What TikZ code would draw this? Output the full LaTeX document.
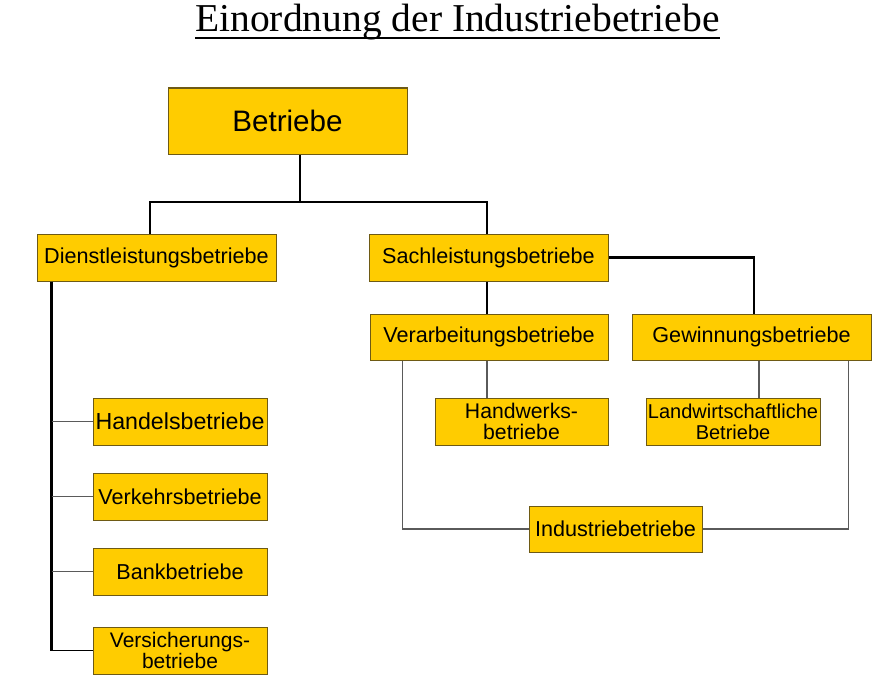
\documentclass[tikz,border=0pt]{standalone}
\usepackage{fontspec}
\setmainfont{Liberation Sans}
\newfontfamily\titlefont{Liberation Serif}
\definecolor{boxfill}{RGB}{255,204,0}
\definecolor{boxline}{RGB}{110,90,20}
\definecolor{thingray}{RGB}{90,90,90}
\begin{document}
\begin{tikzpicture}[x=1pt,y=-1pt,
  box/.style={draw=boxline,fill=boxfill,line width=1pt,inner sep=0pt,anchor=center,
    align=center,font=\fontsize{21.6}{23}\selectfont},
  thk/.style={draw=black,line width=2.8pt},
  thn/.style={draw=thingray,line width=1.4pt}]
\useasboundingbox (0,0) rectangle (881,677);
% title
\node[inner sep=0pt,anchor=base,font=\titlefont\fontsize{39.5}{42}\selectfont] (T) at (457.5,32) {Einordnung der Industriebetriebe};
\draw[line width=1.8pt] ([yshift=-6]T.base west) -- ([yshift=-6]T.base east);
% boxes
\node[box,minimum width=239,minimum height=66,font=\fontsize{29.6}{31}\selectfont] (B) at (287.5,121) {Betriebe};
\node[box,minimum width=239,minimum height=47] (D) at (156.5,257.5) {Dienstleistungsbetriebe};
\node[box,minimum width=239,minimum height=47] (S) at (488.5,257.5) {Sachleistungsbetriebe};
\node[box,minimum width=238,minimum height=46] (V) at (489,337) {Verarbeitungsbetriebe};
\node[box,minimum width=239,minimum height=46] (G) at (751.5,337) {Gewinnungsbetriebe};
\node[box,minimum width=173,minimum height=47,font=\fontsize{21.2}{21}\selectfont] (HW) at (521.5,421.5) {Handwerks-\\betriebe};
\node[box,minimum width=174,minimum height=47,font=\fontsize{20}{21}\selectfont] (LW) at (733,421.5) {Landwirtschaftliche\\Betriebe};
\node[box,minimum width=173,minimum height=46] (I) at (615.5,529) {Industriebetriebe};
\node[box,minimum width=174,minimum height=47,font=\fontsize{23.2}{24}\selectfont] (H) at (180,421.5) {Handelsbetriebe};
\node[box,minimum width=174,minimum height=47] (VK) at (180,496.5) {Verkehrsbetriebe};
\node[box,minimum width=174,minimum height=47] (BK) at (180,571.5) {Bankbetriebe};
\node[box,minimum width=174,minimum height=47,font=\fontsize{21}{21}\selectfont] (VS) at (180,650.5) {Versicherungs-\\betriebe};
% thick connectors
\coordinate (j) at (300,202);
\draw[thk] (B.south -| j) -- (j);
\draw[thk] ([xshift=-6.5]D.north) |- (j) -| ([xshift=-1.5]S.north);
\draw[thk] (S.east) -| ([xshift=2.5]G.north);
\coordinate (s1) at ([xshift=-1.5]S.south);
\draw[thk] (s1) -- (s1 |- V.north);
\coordinate (d1) at ([xshift=15]D.south west);
\coordinate (dl) at (d1 |- VS.west);
\draw[thk] (d1) -- (dl);
\draw[line width=1.6pt] (dl) -- (VS.west);
% thin connectors
\draw[thn] (H.west -| dl) -- (H.west);
\draw[thn] (VK.west -| dl) -- (VK.west);
\draw[thn] (BK.west -| dl) -- (BK.west);
\coordinate (v1) at ([xshift=-2]V.south);
\draw[thn] (v1) -- (v1 |- HW.north);
\coordinate (g1) at ([xshift=7.5]G.south);
\draw[thn] (g1) -- (g1 |- LW.north);
\draw[thn] ([xshift=33]V.south west) |- (I.west);
\draw[thn] ([xshift=-23]G.south east) |- (I.east);
\end{tikzpicture}
\end{document}
